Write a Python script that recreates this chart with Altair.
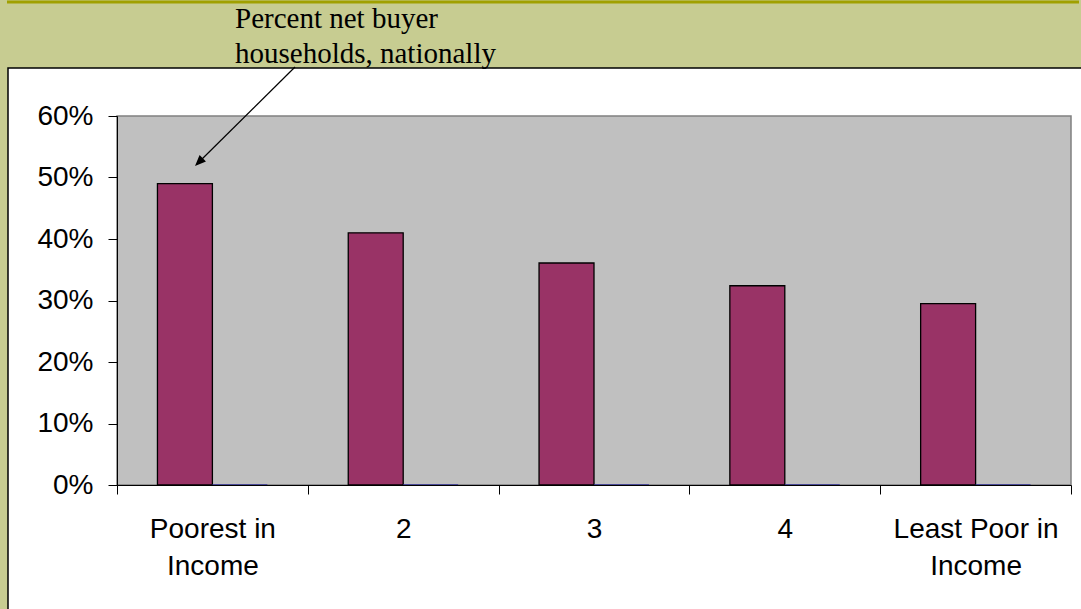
import altair as alt
import pandas as pd

categories = ["Poorest in\nIncome", "2", "3", "4", "Least Poor in\nIncome"]
net_buyer = [0.49, 0.41, 0.361, 0.324, 0.295]
other_series = [0.0, 0.0, 0.0, 0.0, 0.0]
series_names = ["Net buyer", "Other"]
y_ticks = [0, 0.1, 0.2, 0.3, 0.4, 0.5, 0.6]
note_text = "Percent net buyer\nhouseholds, nationally"

rows = []
for c, a, b in zip(categories, net_buyer, other_series):
    rows.append({"cat": c, "series": series_names[0], "value": a})
    rows.append({"cat": c, "series": series_names[1], "value": b})
df = pd.DataFrame(rows)

W, H = 954, 369
one = pd.DataFrame({"k": [0]})

white_box = alt.Chart(one).mark_rect(fill="white", stroke="black", strokeWidth=1.5).encode(
    x=alt.value(-109), x2=alt.value(980), y=alt.value(-48), y2=alt.value(520)
)
top_line = alt.Chart(one).mark_rule(color="#a0a000", strokeWidth=3).encode(
    x=alt.value(-110), x2=alt.value(962), y=alt.value(-114)
)
plot_bg = alt.Chart(one).mark_rect(fill="#c0c0c0", stroke="#808080", strokeWidth=1.5).encode(
    x=alt.value(0), x2=alt.value(W), y=alt.value(0), y2=alt.value(H)
)

bars = alt.Chart(df).mark_bar(strokeWidth=1.3).encode(
    x=alt.X("cat:N", sort=categories, title=None,
            scale=alt.Scale(paddingInner=0, paddingOuter=0),
            axis=alt.Axis(labelAngle=0, tickBand="extent", labelExpr="split(datum.label, '\\n')",
                          labelLineHeight=37, labelPadding=21, tickSize=9, zindex=2,
                          labelFontSize=28, labelFont="Liberation Sans", labelColor="black",
                          domainColor="black", tickColor="black", labelBaseline="top")),
    xOffset=alt.XOffset("series:N", sort=series_names,
                        scale=alt.Scale(paddingInner=0, paddingOuter=0.736)),
    y=alt.Y("value:Q", title=None, scale=alt.Scale(domain=[0, 0.6], nice=False),
            axis=alt.Axis(values=y_ticks, format=".0%", grid=False, tickSize=9, labelPadding=15, zindex=2,
                          labelFontSize=28, labelFont="Liberation Sans", labelColor="black",
                          domainColor="black", tickColor="black")),
    fill=alt.Fill("series:N", scale=alt.Scale(domain=series_names, range=["#993366", "#9999ff"]), legend=None),
    stroke=alt.Stroke("series:N", scale=alt.Scale(domain=series_names, range=["black", "#333399"]), legend=None),
)

note = alt.Chart(pd.DataFrame({"t": [note_text]})).mark_text(
    align="left", baseline="alphabetic", font="Liberation Serif", fontSize=29,
    lineBreak="\n", lineHeight=35, color="black"
).encode(text="t:N", x=alt.value(118), y=alt.value(-88))

arrow_line = alt.Chart(one).mark_rule(color="black", strokeWidth=1.2).encode(
    x=alt.value(178), y=alt.value(-49), x2=alt.value(80), y2=alt.value(48)
)
arrow_head = alt.Chart(one).mark_point(
    shape="M0,0 L-0.45,1.1 L0.45,1.1 Z", filled=True, color="black", size=400, angle=225, opacity=1
).encode(x=alt.value(78), y=alt.value(50))

chart = alt.layer(white_box, top_line, plot_bg, bars, note, arrow_line, arrow_head).properties(
    width=W, height=H,
    autosize=alt.AutoSizeParams(type="none"),
    padding={"left": 117, "top": 116, "right": 10, "bottom": 124},
    background="#c7cc91",
).configure_view(stroke=None)

chart.save("out.html", embed_options={"renderer": "svg", "actions": False})
